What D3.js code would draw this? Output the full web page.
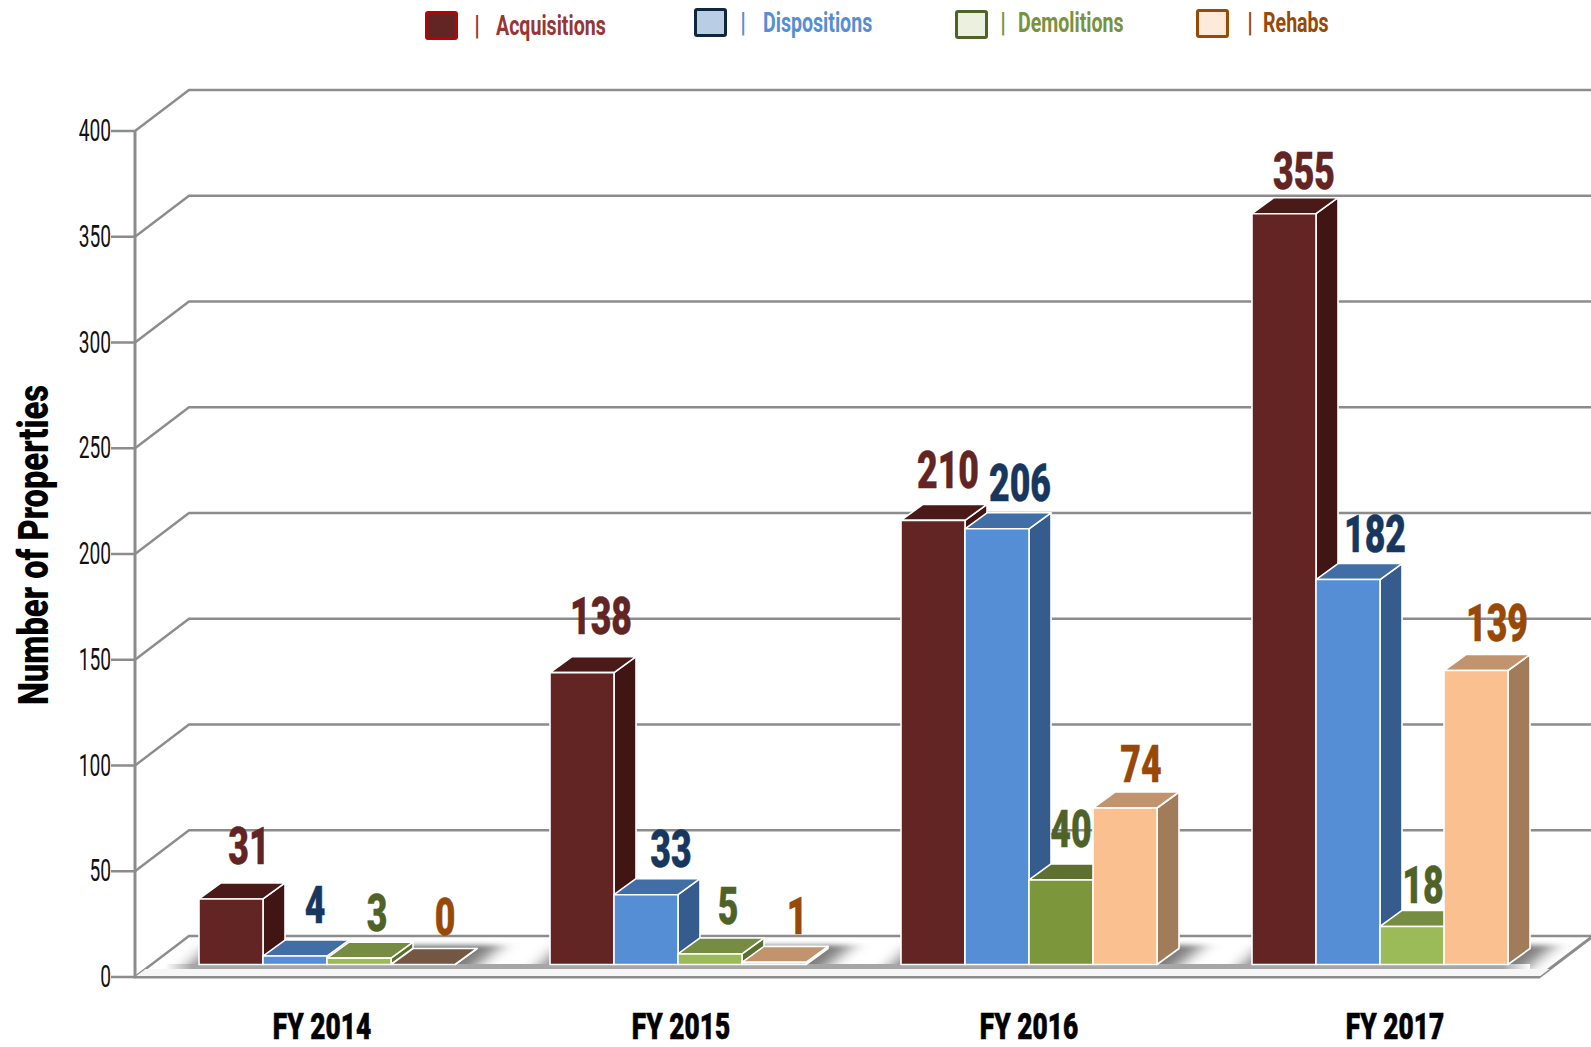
<!DOCTYPE html>
<html><head><meta charset="utf-8"><script src="https://cdn.jsdelivr.net/npm/d3@7"></script>
<style>html,body{margin:0;background:#fff}svg{display:block}</style></head><body><svg id="c" width="1591" height="1047"></svg>
<script>
const years=["FY 2014","FY 2015","FY 2016","FY 2017"];
const seriesNames=["Acquisitions","Dispositions","Demolitions","Rehabs"];
const acquisitions=[31,138,210,355];
const dispositions=[4,33,206,182];
const demolitions=[3,5,40,18];
const rehabs=[0,1,74,139];
const yTicks=[0,50,100,150,200,250,300,350,400];
const seriesValues=[acquisitions,dispositions,demolitions,rehabs];
const fronts=[["#632523"],["#558ed5"],["#9bbb59","#9bbb59","#7c963b","#9bbb59"],["#fac090"]];
const tops=[["#4a1a19"],["#426ea6"],["#758c42","#758c42","#5d7030","#758c42"],["#c2946e"]];
const sides=["#401514","#355c8c","#5c7030","#a07c5b"];
const labelCols=["#632523","#17375e","#4f6228","#984807"];
const legendText=["#953735","#558ed5","#77933c","#984807"];
const legendStroke=["#c00000","#10253f","#4f6228","#984807"];
const legendFill=["#632523","#b9cde5","#ebf1de","#fdeada"];
const svg=d3.select("#c");
const y=d3.scaleLinear().domain([0,400]).range([977,131]);
const x0=d3.scaleBand().domain(years).range([199,199+351*4]).padding(0);
const bw=64, depthX=22, depthY=16, backX=54, backY=41, base=964.5;
const F="'Roboto','Liberation Sans',sans-serif";
function txt(g,s,x,yy,size,w,col,sx,anchor,sw){
  return g.append("text").attr("transform",`translate(${x},${yy}) scale(${sx},1)`).attr("text-anchor",anchor||"middle")
   .attr("font-family",F).attr("font-size",size).attr("font-weight",w).attr("fill",col)
   .attr("stroke",sw?col:"none").attr("stroke-width",sw||0).text(s);
}
const defs=svg.append("defs");
const lg=defs.append("linearGradient").attr("id","band");
[[0,"#fff"],[0.02,"#a6a6a6"],[0.98,"#a6a6a6"],[1,"#fff"]].forEach(([o,c])=>lg.append("stop").attr("offset",o).attr("stop-color",c));
defs.append("filter").attr("id","b").attr("filterUnits","userSpaceOnUse").attr("x",100).attr("width",1491).attr("y",920).attr("height",70).append("feGaussianBlur").attr("stdDeviation","10 2.5");
defs.append("clipPath").attr("id","fl").append("polygon").attr("points",[[135,977],[1539,977],[1593,936],[189,936]].join(" "));
// grid
const grid=svg.append("g").attr("fill","none").attr("stroke","#8c8c8c").attr("stroke-width",2.4);
yTicks.forEach(t=>{
  grid.append("path").attr("d",`M111,${y(t)}H135L${135+backX},${y(t)-backY}H1591`);
});
grid.append("path").attr("d",`M135,${y(400)}V${y(0)}H1539L1593,936`).attr("stroke-width",3);
// floor shadow
const fl=svg.append("g").attr("clip-path","url(#fl)");
fl.append("g").attr("filter","url(#b)").selectAll("polygon").data(years).join("polygon")
  .attr("fill","#7d7d7d")
  .attr("points",d=>{const a=x0(d),e=a+bw*4;return [[a-16,972],[e+14,972],[e+46,945],[a+12,945]].join(" ")});
fl.append("rect").attr("x",135).attr("y",969).attr("width",1420).attr("height",7).attr("fill","#f6f6f6");
fl.append("rect").attr("x",165).attr("y",964).attr("width",1365).attr("height",5).attr("fill","url(#band)");
// bars
years.forEach((yr,i)=>{
  const g=svg.append("g");
  seriesValues.forEach((vals,s)=>{
    const v=vals[i], h=y(0)-y(v), X=x0(yr)+s*bw, T=base-h;
    const st={stroke:"#fff","stroke-width":1.6,"stroke-linejoin":"round"};
    const side=g.append("polygon").attr("points",[[X+bw,T],[X+bw+depthX,T-depthY],[X+bw+depthX,base-depthY],[X+bw,base]].join(" ")).attr("fill",sides[s]);
    const top=g.append("polygon").attr("points",[[X,T],[X+depthX,T-depthY],[X+bw+depthX,T-depthY],[X+bw,T]].join(" ")).attr("fill",v===0?"#735742":(tops[s][i]||tops[s][0]));
    const fr=g.append("rect").attr("x",X).attr("y",T).attr("width",bw).attr("height",h).attr("fill",fronts[s][i]||fronts[s][0]);
    [side,top,fr].forEach(e=>Object.entries(st).forEach(([k,val])=>e.attr(k,val)));
  });
});
// value labels
const labelDx=[[50,52,50,54],[51,57,50,55],[47,55,42,48],[52,59,43,53]];
const labelDy=[[-35,-33,-27,-30],[-39,-28,-30,-28],[-32,-28,-33,-26],[-25,-28,-23,-30]];
years.forEach((yr,i)=>{
  seriesValues.forEach((vals,s)=>{
    const v=vals[i], X=x0(yr)+s*bw, T=base-(y(0)-y(v));
    txt(svg,v,X+labelDx[i][s],T+labelDy[i][s],51,900,labelCols[s],0.70,"middle",0.4);
  });
});
// axes text
yTicks.forEach(t=>txt(svg,t,111,y(t)+10,32,400,"#111",0.6,"end"));
const catX=[322,681,1029,1395];
years.forEach((yr,i)=>txt(svg,yr,catX[i],1039,37,900,"#000",0.71,"middle",0.6));
svg.append("text").attr("transform","translate(48,545) rotate(-90) scale(0.76,1)").attr("text-anchor","middle").attr("font-family",F).attr("font-size",43).attr("font-weight",900).attr("fill","#000").text("Number of Properties");
// legend
const legX=[425,694,955,1196], legY=[11,8,10,9], sepX=[477,743,1003,1250], txtX=[496,763,1018,1263], txtY=[35,32,32,32];
seriesNames.forEach((n,s)=>{
  svg.append("rect").attr("x",legX[s]+1.5).attr("y",legY[s]+1.5).attr("width",30).attr("height",26).attr("rx",1.5).attr("fill",legendFill[s]).attr("stroke",legendStroke[s]).attr("stroke-width",3);
  txt(svg,"|",sepX[s],txtY[s],28,700,legendText[s],0.8);
  txt(svg,n,txtX[s],txtY[s],28,700,legendText[s],0.70,"start");
});
</script></body></html>
